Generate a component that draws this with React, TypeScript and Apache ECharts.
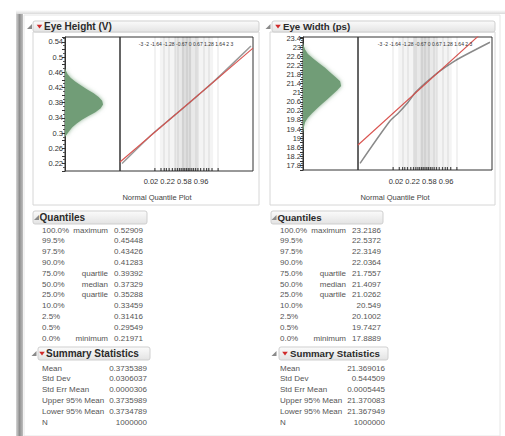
import React, { useEffect, useRef } from 'react';
import * as echarts from 'echarts';

const FONT = '"Liberation Sans", Arial, Helvetica, sans-serif';

// ---------- data ----------
const eyeHeightBins = [0.465, 0.455, 0.445, 0.435, 0.425, 0.415, 0.405, 0.395, 0.385, 0.375, 0.365, 0.355, 0.345, 0.335, 0.325, 0.315, 0.305, 0.295];
const eyeHeightCounts = [3, 9, 20, 36, 55, 76, 98, 115, 127, 130, 122, 104, 80, 58, 40, 25, 14, 5];
const eyeWidthBins = [23.1, 22.9, 22.7, 22.5, 22.3, 22.1, 21.9, 21.7, 21.5, 21.3, 21.1, 20.9, 20.7, 20.5, 20.3, 20.1, 19.9, 19.7, 19.5, 19.3];
const eyeWidthCounts = [2, 8, 19, 39, 62, 85, 104, 124, 143, 147, 131, 112, 93, 73, 54, 35, 19, 8, 4, 1];

const eyeHeightTicks = ['0.22', '0.26', '0.3', '0.34', '0.38', '0.42', '0.46', '0.5', '0.54'];
const eyeWidthTicks = ['17.8', '18.2', '18.6', '19', '19.4', '19.8', '20.2', '20.6', '21', '21.4', '21.8', '22.2', '22.6', '23', '23.4'];

const quantileLevels = ['100.0%', '99.5%', '97.5%', '90.0%', '75.0%', '50.0%', '25.0%', '10.0%', '2.5%', '0.5%', '0.0%'];
const quantileNames = ['maximum', '', '', '', 'quartile', 'median', 'quartile', '', '', '', 'minimum'];
const normalQuantiles = [4.75, 2.576, 1.96, 1.2816, 0.6745, 0, -0.6745, -1.2816, -1.96, -2.576, -4.75];
const eyeHeightQuantiles = [0.52909, 0.45448, 0.43426, 0.41283, 0.39392, 0.37329, 0.35288, 0.33459, 0.31416, 0.29549, 0.21971];
const eyeWidthQuantiles = [23.2186, 22.5372, 22.3149, 22.0364, 21.7557, 21.4097, 21.0262, 20.549, 20.1002, 19.7427, 17.8889];

const summaryLabels = ['Mean', 'Std Dev', 'Std Err Mean', 'Upper 95% Mean', 'Lower 95% Mean', 'N'];
const eyeHeightSummary = ['0.3735389', '0.0306037', '0.0000306', '0.3735989', '0.3734789', '1000000'];
const eyeWidthSummary = ['21.369016', '0.544509', '0.0005445', '21.370083', '21.367949', '1000000'];

const eyeHeightFit = [[-4.9, 0.2236], [4.9, 0.5235]];
const eyeWidthFit = [[-4.9, 18.701], [4.9, 24.037]];

const topAxisText = '-3 -2 -1.64 -1.28 -0.67 0 0.67 1.28 1.64 2 3';
const probTickZ = [-2.33, -1.88, -1.64, -1.48, -1.28, -1.04, -0.84, -0.67, -0.52, -0.39, -0.25, -0.13, 0, 0.13, 0.25, 0.39, 0.52, 0.67, 0.84, 1.04, 1.28, 1.48, 1.64, 1.88, 2.33];
const bandLinesZ = [-2.33, -1.64, -1.28, -0.84, -0.67, -0.25, 0, 0.25, 0.67, 0.84, 1.28, 1.64, 2.33];
const bottomAxisText = '0.02 0.22 0.58 0.96';

// ---------- helpers ----------
function histSeries(bins: number[], counts: number[], half: number, axis: number) {
  return {
    type: 'custom',
    xAxisIndex: axis,
    yAxisIndex: axis,
    clip: true,
    silent: true,
    data: [[0, 0]],
    renderItem: (params: any, api: any) => {
      if (params.dataIndex !== 0) return null;
      const pts: number[][] = [];
      pts.push(api.coord([0, bins[0] + half]));
      bins.forEach((b, i) => pts.push(api.coord([counts[i], b])));
      pts.push(api.coord([0, bins[bins.length - 1] - half]));
      return {
        type: 'polygon',
        shape: { points: pts },
        style: { fill: '#719d77', shadowBlur: 4, shadowColor: 'rgba(130,170,135,0.9)' },
      };
    },
  };
}

function yAxisDef(grid: number, visible: boolean, min: number, max: number, interval: number, ticks: string[], digits: number) {
  const f = Math.pow(10, digits);
  return {
    gridIndex: grid,
    type: 'value',
    min,
    max,
    interval,
    show: visible,
    axisLine: { show: true, lineStyle: { color: '#333', width: 1 } },
    axisTick: { show: true, length: 3, lineStyle: { color: '#333' } },
    minorTick: { show: true, splitNumber: 2, length: 2, lineStyle: { color: '#555' } },
    axisLabel: {
      fontSize: 7.5,
      color: '#333',
      margin: 2,
      fontFamily: FONT,
      formatter: (v: number) => {
        const s = String(Math.round(v * f) / f);
        return ticks.includes(s) ? s : '';
      },
    },
    splitLine: { show: false },
  };
}

function quantSeries(values: number[], fit: number[][], axis: number, yBottom: number, dataColor: string) {
  return [
    {
      type: 'line',
      xAxisIndex: axis,
      yAxisIndex: axis,
      data: values.map((v, i) => [normalQuantiles[i], v]),
      smooth: 0.3,
      symbol: 'none',
      silent: true,
      z: 3,
      lineStyle: { color: dataColor, width: 1.5 },
      markArea: {
        silent: true,
        itemStyle: { color: 'rgba(0,0,0,0.045)' },
        data: [
          [{ xAxis: -1.96 }, { xAxis: 1.96 }],
          [{ xAxis: -0.84 }, { xAxis: 0.84 }],
          [{ xAxis: -0.35 }, { xAxis: 0.35 }],
        ],
      },
      markLine: {
        silent: true,
        symbol: ['none', 'none'],
        label: { show: false },
        lineStyle: { color: 'rgba(0,0,0,0.07)', width: 1.5, type: 'solid' },
        data: bandLinesZ.map((z) => ({ xAxis: z })),
      },
    },
    {
      type: 'line',
      xAxisIndex: axis,
      yAxisIndex: axis,
      data: fit,
      symbol: 'none',
      silent: true,
      z: 4,
      lineStyle: { color: '#d9534f', width: 1.1 },
    },
    {
      type: 'scatter',
      xAxisIndex: axis,
      yAxisIndex: axis,
      data: probTickZ.map((z) => [z, yBottom]),
      symbol: 'rect',
      symbolSize: [1.2, 3],
      symbolOffset: [0, -1.5],
      silent: true,
      z: 5,
      itemStyle: { color: '#222' },
    },
  ];
}

function txt(x: number, y: number, text: string, o: any = {}) {
  return {
    type: 'text',
    x,
    y,
    z: 50,
    silent: true,
    style: {
      text,
      fontSize: o.size || 8,
      fontFamily: FONT,
      fontWeight: o.bold ? 'bold' : 'normal',
      fill: o.color || '#555',
      align: o.align || 'left',
      verticalAlign: 'middle',
    },
  };
}

function headerBox(x: number, y: number, w: number, h: number) {
  return {
    type: 'rect',
    z: 10,
    silent: true,
    shape: { x, y, width: w, height: h, r: 2 },
    style: {
      fill: new echarts.graphic.LinearGradient(0, 0, 0, 1, [
        { offset: 0, color: '#fbfbfb' },
        { offset: 1, color: '#e3e3e3' },
      ]),
      stroke: '#cfcfcf',
      lineWidth: 1,
    },
  };
}

function redTri(cx: number, cy: number) {
  return {
    type: 'polygon',
    z: 60,
    silent: true,
    shape: { points: [[cx - 2.8, cy - 1.8], [cx + 2.8, cy - 1.8], [cx, cy + 2]] },
    style: { fill: '#d02b2b' },
  };
}

function discTri(cx: number, cy: number) {
  return {
    type: 'polygon',
    z: 60,
    silent: true,
    shape: { points: [[cx + 2.5, cy - 2.5], [cx + 2.5, cy + 2.5], [cx - 2.5, cy + 2.5]] },
    style: { fill: '#8a8a8a' },
  };
}

function panel(g: any[], p: any) {
  g.push({ type: 'rect', z: 5, silent: true, shape: { x: p.frameX, y: 32, width: p.frameW, height: 173 }, style: { fill: 'none', stroke: '#d6d6d6', lineWidth: 1 } });
  g.push(headerBox(p.headX, 21, p.headW, 11));
  g.push(discTri(p.iconX, 26.5));
  g.push(redTri(p.triX, 26.5));
  g.push(txt(p.titleX, 26.5, p.title, { size: p.fs, bold: true, color: '#2a2a2a' }));
  g.push(txt(p.topX, 43.5, topAxisText, { size: 5, color: '#333', align: 'center' }));
  g.push(txt(p.botX, 181, bottomAxisText, { size: 7.5, color: '#333', align: 'center' }));
  g.push(txt(p.nqpX, 197.5, 'Normal Quantile Plot', { size: 7.5, color: '#444', align: 'center' }));
  // Quantiles
  g.push(headerBox(p.qBoxX, 211, p.qBoxW, 13));
  g.push(discTri(p.qIconX, 217.5));
  g.push(txt(p.qTextX, 217.5, 'Quantiles', { size: p.fs, bold: true, color: '#2a2a2a' }));
  quantileLevels.forEach((lv, i) => {
    const y = 230 + i * 10.8;
    g.push(txt(p.pctX, y, lv));
    if (quantileNames[i]) g.push(txt(p.nameRX, y, quantileNames[i], { align: 'right' }));
    g.push(txt(p.valRX, y, String(p.quantiles[i]), { align: 'right' }));
  });
  // Summary
  g.push(headerBox(p.sBoxX, 347, p.sBoxW, 13));
  g.push(discTri(p.sIconX, 353.5));
  g.push(redTri(p.sTriX, 353.5));
  g.push(txt(p.sTextX, 353.5, 'Summary Statistics', { size: p.fs, bold: true, color: '#2a2a2a' }));
  summaryLabels.forEach((lb, i) => {
    const y = 368 + i * 10.8;
    g.push(txt(p.pctX, y, lb));
    g.push(txt(p.sValRX, y, p.summary[i], { align: 'right' }));
  });
}

function buildOption() {
  const g: any[] = [];
  g.push({
    type: 'rect', z: 1, silent: true, shape: { x: 16, y: 13, width: 7, height: 423 },
    style: { fill: new echarts.graphic.LinearGradient(0, 0, 1, 0, [
      { offset: 0, color: '#d6d6d6' }, { offset: 0.5, color: '#8f8f8f' }, { offset: 1, color: '#bdbdbd' },
    ]) },
  });
  g.push({
    type: 'rect', z: 1, silent: true, shape: { x: 16, y: 10, width: 489, height: 4 },
    style: { fill: new echarts.graphic.LinearGradient(0, 0, 0, 1, [
      { offset: 0, color: '#ffffff' }, { offset: 1, color: '#d9d9d9' },
    ]) },
  });
  g.push({ type: 'rect', z: 2, silent: true, shape: { x: 24, y: 15, width: 476, height: 421 }, style: { fill: 'none', stroke: '#e6e6e6', lineWidth: 1 } });

  panel(g, {
    frameX: 33, frameW: 226, headX: 33, headW: 226, iconX: 29.5, triX: 39.5, titleX: 44, title: 'Eye Height (V)', fs: 10,
    topX: 186, botX: 176, nqpX: 157, qBoxX: 33, qBoxW: 114, qIconX: 36.5, qTextX: 39.5,
    pctX: 42, nameRX: 108, valRX: 143, quantiles: eyeHeightQuantiles,
    sBoxX: 38, sBoxW: 112, sIconX: 34, sTriX: 42, sTextX: 46, sValRX: 147, summary: eyeHeightSummary,
  });
  panel(g, {
    frameX: 270, frameW: 225, headX: 272, headW: 223, iconX: 268, triX: 278, titleX: 283, title: 'Eye Width (ps)', fs: 9.7,
    topX: 425, botX: 421, nqpX: 395, qBoxX: 271, qBoxW: 112, qIconX: 274, qTextX: 277.5,
    pctX: 280, nameRX: 346, valRX: 381, quantiles: eyeWidthQuantiles,
    sBoxX: 279, sBoxW: 109, sIconX: 274, sTriX: 285, sTextX: 290, sValRX: 385, summary: eyeWidthSummary,
  });

  const gridBase = { show: true, borderColor: '#333', borderWidth: 1, backgroundColor: 'transparent' };
  return {
    animation: false,
    backgroundColor: '#ffffff',
    textStyle: { fontFamily: FONT },
    grid: [
      { ...gridBase, left: 65, top: 37, width: 55, height: 134 },
      { ...gridBase, left: 120, top: 37, width: 133, height: 134 },
      { ...gridBase, left: 303, top: 37, width: 55, height: 133 },
      { ...gridBase, left: 358, top: 37, width: 134, height: 133 },
    ],
    xAxis: [
      { gridIndex: 0, type: 'value', min: 0, max: 188, show: false },
      { gridIndex: 1, type: 'value', min: -4.9, max: 4.9, show: false },
      { gridIndex: 2, type: 'value', min: 0, max: 212, show: false },
      { gridIndex: 3, type: 'value', min: -4.9, max: 4.9, show: false },
    ],
    yAxis: [
      yAxisDef(0, true, 0.2, 0.553, 0.02, eyeHeightTicks, 2),
      yAxisDef(1, false, 0.2, 0.553, 0.02, eyeHeightTicks, 2),
      yAxisDef(2, true, 17.6, 23.45, 0.2, eyeWidthTicks, 1),
      yAxisDef(3, false, 17.6, 23.45, 0.2, eyeWidthTicks, 1),
    ],
    series: [
      histSeries(eyeHeightBins, eyeHeightCounts, 0.005, 0),
      histSeries(eyeWidthBins, eyeWidthCounts, 0.1, 2),
      ...quantSeries(eyeHeightQuantiles, eyeHeightFit, 1, 0.2, '#9a9a9a'),
      ...quantSeries(eyeWidthQuantiles, eyeWidthFit, 3, 17.6, '#8a8a8a'),
    ],
    graphic: g,
  };
}

export default function App() {
  const ref = useRef<HTMLDivElement>(null);
  useEffect(() => {
    if (!ref.current) return;
    const chart = echarts.init(ref.current, null, { renderer: 'svg', width: 505, height: 436 });
    chart.setOption(buildOption() as any);
    return () => chart.dispose();
  }, []);
  return <div ref={ref} style={{ position: 'absolute', left: 0, top: 0, width: 505, height: 436 }} />;
}
